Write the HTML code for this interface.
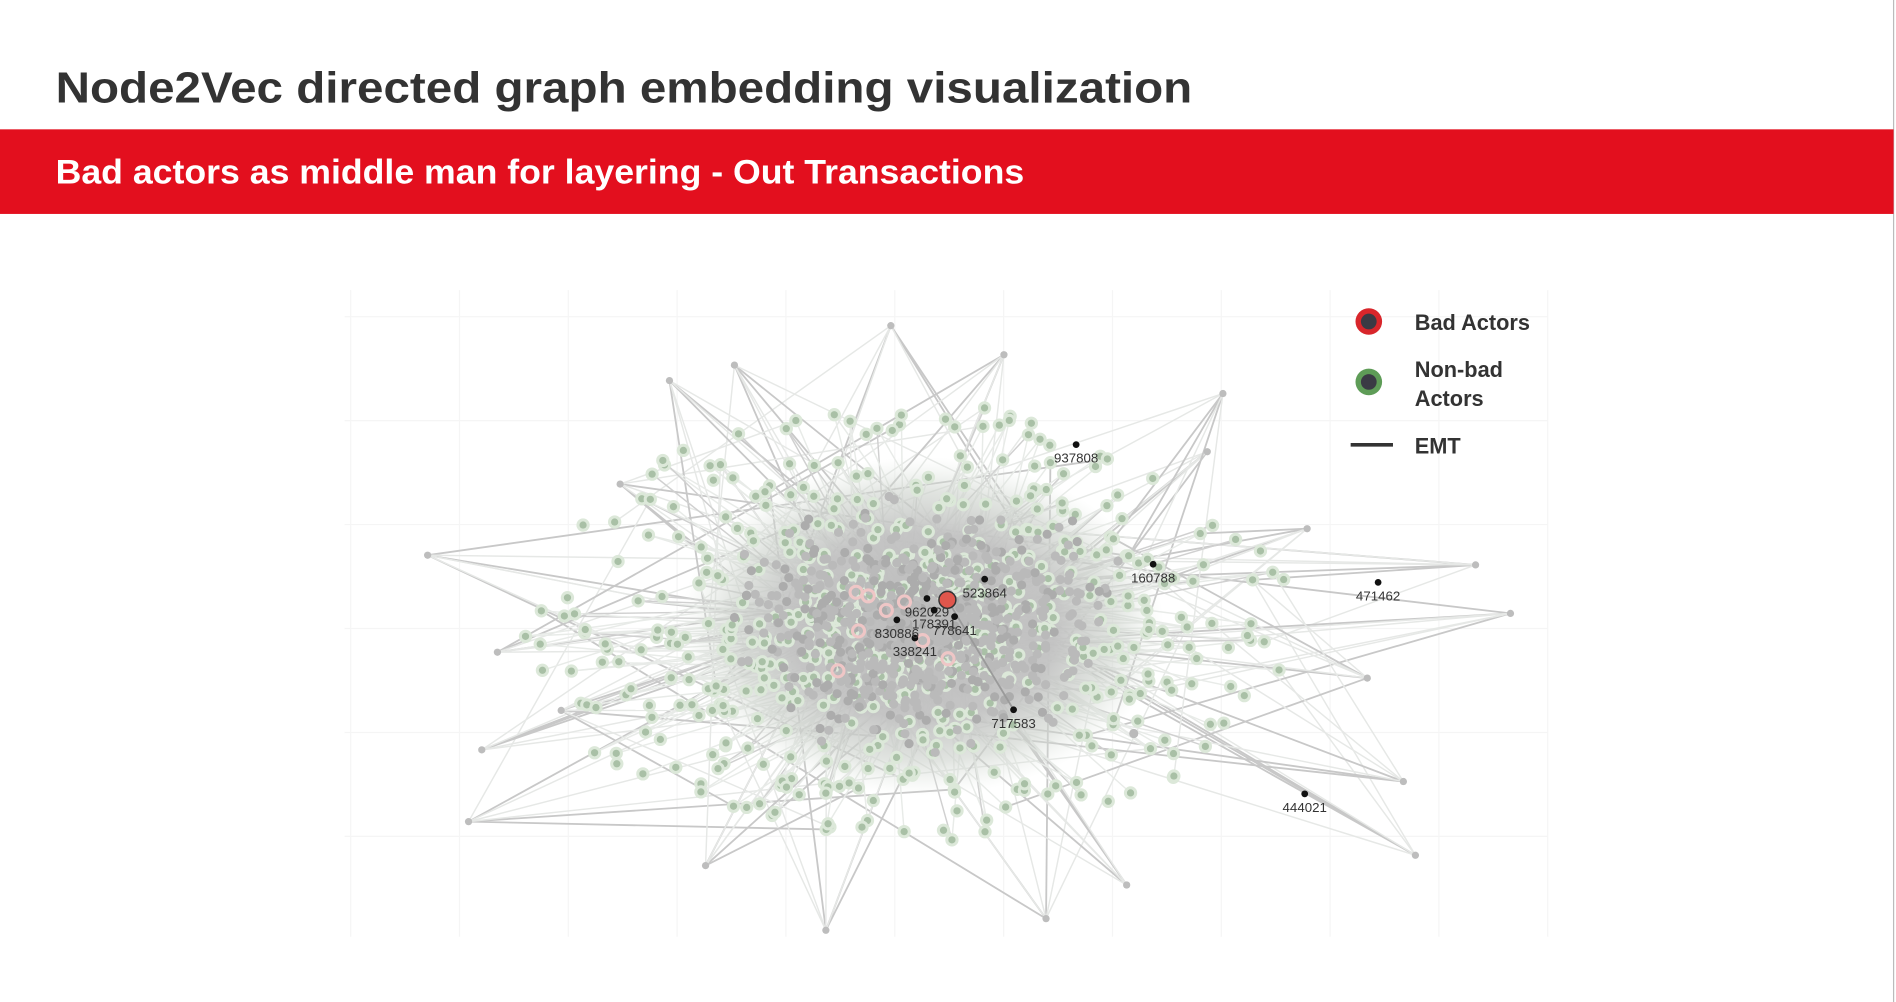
<!DOCTYPE html>
<html><head><meta charset="utf-8">
<style>
html,body{margin:0;padding:0;background:#fff;width:1896px;height:1002px;overflow:hidden}
svg{display:block}
text{font-family:"Liberation Sans",sans-serif}
</style></head>
<body>
<svg id="chart" width="1896" height="1002" viewBox="0 0 1568 829" preserveAspectRatio="none">
  <defs>
    <radialGradient id="coreGrad" cx="0.5" cy="0.5" r="0.5">
      <stop offset="0" stop-color="#bcbcbc" stop-opacity="1"/>
      <stop offset="0.55" stop-color="#c2c2c2" stop-opacity="0.95"/>
      <stop offset="0.8" stop-color="#cdd2cc" stop-opacity="0.6"/>
      <stop offset="1" stop-color="#dfe6de" stop-opacity="0"/>
    </radialGradient>
  </defs>
  <rect x="0" y="0" width="1568" height="829" fill="#fff"/>
  <line x1="1566" y1="0" x2="1566" y2="829" stroke="#bbb" stroke-width="1"/>
  <text x="46" y="85" font-size="36" font-weight="bold" fill="#333" textLength="940" lengthAdjust="spacingAndGlyphs">Node2Vec directed graph embedding visualization</text>
  <rect x="0" y="107" width="1566" height="70" fill="#e30f1e"/>
  <text x="46" y="152" font-size="28" font-weight="bold" fill="#fff" textLength="801" lengthAdjust="spacingAndGlyphs">Bad actors as middle man for layering - Out Transactions</text>
  <g id="grid"></g>
  <g id="bgEdges"></g>
  <g id="bgNodes"></g>
  <g id="marks"></g>
  <g>
    <circle cx="1132" cy="266" r="11" fill="#d8262b"/>
    <circle cx="1132" cy="266" r="6.5" fill="#3a3a44"/>
    <text x="1170" y="273" font-size="18" font-weight="bold" fill="#333">Bad Actors</text>
    <circle cx="1132" cy="316" r="11" fill="#5e9c57"/>
    <circle cx="1132" cy="316" r="6.5" fill="#3a3a44"/>
    <text x="1170" y="312" font-size="18" font-weight="bold" fill="#333">Non-bad</text>
    <text x="1170" y="336" font-size="18" font-weight="bold" fill="#333">Actors</text>
    <line x1="1117" y1="368" x2="1152" y2="368" stroke="#333" stroke-width="3"/>
    <text x="1170" y="375" font-size="18" font-weight="bold" fill="#333">EMT</text>
  </g>
</svg>
<script>
// ---- data ----
const nodeIds = ["937808","160788","471462","523864","717583","444021","338241","830886","778641","962029","178391"];
const nodeX = [60.8, 67.2, 85.9, 53.2, 55.6, 79.8, 47.4, 45.9, 50.7, 48.4, 49.0];
const nodeY = [76.1, 57.6, 54.8, 55.3, 35.1, 22.1, 46.2, 49.0, 49.5, 52.3, 50.5];
const badX = [50.1];
const badY = [52.1];
const outerX = [45.4, 6.9, 94.0, 10.3, 89.0, 58.3, 32.4, 71.7, 11.4, 80.0, 22.9, 54.8, 27.0, 96.9, 85.0, 12.7, 18.0, 40.0, 88.0, 73.0, 30.0, 65.0];
const outerY = [94.5, 59.0, 57.5, 17.8, 12.6, 2.8, 88.4, 75.0, 28.9, 63.1, 70.0, 90.0, 86.0, 50.0, 40.0, 44.0, 35.0, 1.0, 24.0, 84.0, 11.0, 8.0];

const NS = "http://www.w3.org/2000/svg";
const X0=285, X1=1280, Y0=775, Y1=240;
function xs(v){return X0+(X1-X0)*v/100;}
function ys(v){return Y0-(Y0-Y1)*v/100;}
function mk(tag, attrs, parent){const e=document.createElementNS(NS,tag);for(const k in attrs)e.setAttribute(k,attrs[k]);parent.appendChild(e);return e;}

const grid=document.getElementById('grid');
for(let gx=290;gx<=1280;gx+=90){mk('line',{x1:gx,y1:240,x2:gx,y2:775,stroke:'#f5f5f5','stroke-width':1},grid);}
for(let gy=262;gy<=775;gy+=86){mk('line',{x1:285,y1:gy,x2:1280,y2:gy,stroke:'#f5f5f5','stroke-width':1},grid);}

// deterministic texture for the unlabeled cloud
let seed=12345;
function rnd(){seed=(seed*1103515245+12345)%2147483648;return seed/2147483648;}
function gauss(){return (rnd()+rnd()+rnd()-1.5)/1.5;}

const eg=document.getElementById('bgEdges');
const ng=document.getElementById('bgNodes');
const cx=xs(47), cy=ys(48);
const pts=[];
for(let i=0;i<620;i++){
  const r=0.15+0.85*Math.pow(rnd(),1.3);
  const a=rnd()*Math.PI*2;
  pts.push([cx+Math.cos(a)*r*320, cy+Math.sin(a)*r*185]);
}
const hubs=[];
for(let i=0;i<outerX.length;i++) hubs.push([xs(outerX[i]), ys(outerY[i])]);
for(let i=0;i<hubs.length;i++){
  for(let k=0;k<7;k++){
    const p=pts[Math.floor(rnd()*pts.length)];
    mk('line',{x1:hubs[i][0],y1:hubs[i][1],x2:p[0],y2:p[1],stroke:k<3?'#c8c8c8':'#e6e8e6','stroke-width':k<3?1.5:1.2},eg);
  }
}
for(let i=0;i<550;i++){
  const p=pts[Math.floor(rnd()*pts.length)];
  const q=pts[Math.floor(rnd()*pts.length)];
  mk('line',{x1:p[0],y1:p[1],x2:cx+(q[0]-cx)*0.3,y2:cy+(q[1]-cy)*0.3,stroke:i%6==0?'#d0d0d0':'#e8ebe8','stroke-width':1.2},eg);
}
// soft gray core
mk('ellipse',{cx:cx+10,cy:cy,rx:200,ry:140,fill:'url(#coreGrad)'},ng);
// green halo nodes
for(let i=0;i<pts.length;i++){
  const p=pts[i];
  mk('circle',{cx:p[0],cy:p[1],r:5.5,fill:'#dce8d9'},ng);
  mk('circle',{cx:p[0],cy:p[1],r:3,fill:'#a9c0a6'},ng);
}
// dense gray dots
for(let i=0;i<700;i++){
  const x=cx+10+gauss()*190, y=cy+gauss()*120;
  mk('circle',{cx:x,cy:y,r:3.8,fill:i%3==0?'#acacac':'#bababa'},ng);
}
for(const h of hubs){mk('circle',{cx:h[0],cy:h[1],r:3,fill:'#bdbdbd'},ng);}
const rings=[[708,490],[718,493],[693,555],[710,522],[784,545],[748,498],[763,530],[733,505]];
for(const r of rings){mk('circle',{cx:r[0],cy:r[1],r:5,fill:'none',stroke:'#efc6c6','stroke-width':2.5},ng);}

// labeled nodes and EMT edges
const mg=document.getElementById('marks');
const bx=xs(badX[0]), by=ys(badY[0]);
mk('line',{x1:bx,y1:by,x2:xs(nodeX[4]),y2:ys(nodeY[4]),stroke:'#9a9a9a','stroke-width':1.5},mg);
for(let i=0;i<nodeIds.length;i++){
  const px=xs(nodeX[i]), py=ys(nodeY[i]);
  const c=mk('circle',{cx:px,cy:py,r:2.8,fill:'#111'},mg);
  
  
  const t=mk('text',{x:px,y:py+15,'font-size':11,fill:'#333','text-anchor':'middle'},mg);
  
  
  t.textContent=nodeIds[i];
}
for(let i=0;i<badX.length;i++){
  const c=mk('circle',{cx:xs(badX[i]),cy:ys(badY[i]),r:7,fill:'#e0564c',stroke:'#333','stroke-width':1.2},mg);
  
  
}
</script>
</body></html>
